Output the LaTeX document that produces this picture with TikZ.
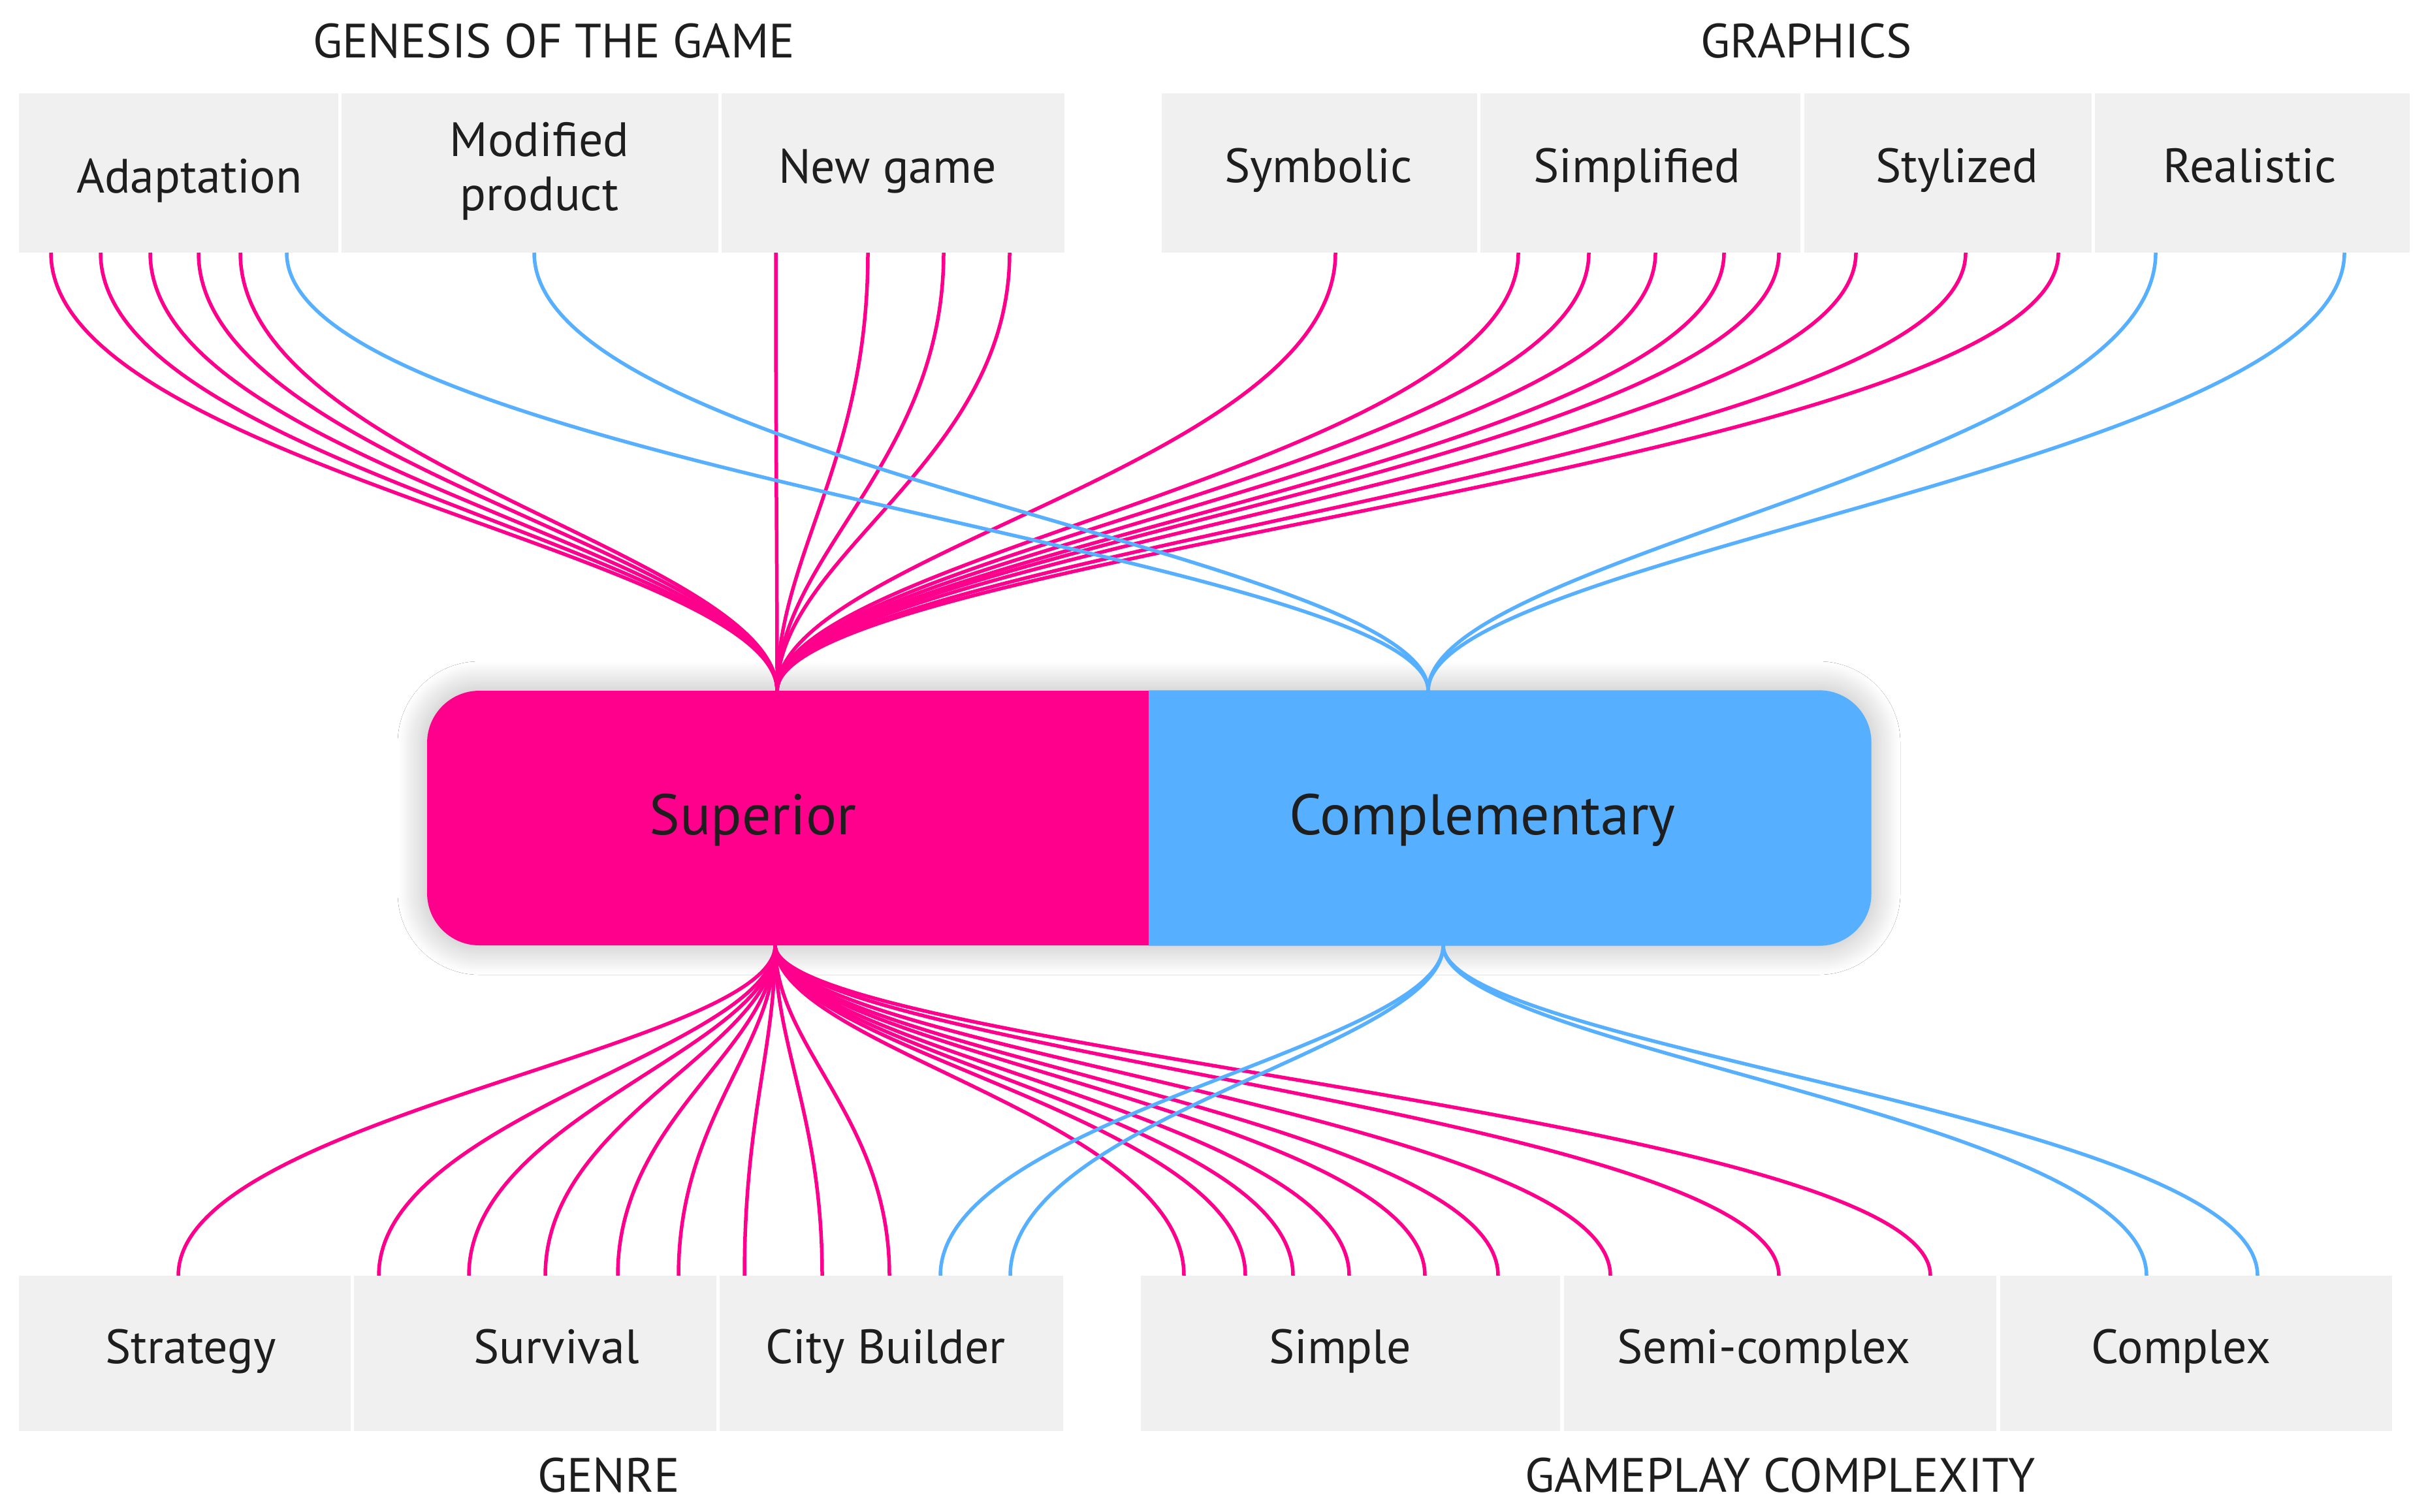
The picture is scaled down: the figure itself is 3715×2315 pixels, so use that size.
\documentclass[tikz,border=0pt]{standalone}
\usepackage{fontspec}
\setmainfont{PT Sans}
\usetikzlibrary{shadows.blur}
\definecolor{pk}{HTML}{FF008C}
\definecolor{bl}{HTML}{56B0FF}
\definecolor{gr}{HTML}{F0F0F0}
\definecolor{tx}{HTML}{1E1E1E}
\newcommand\cbox[5]{\node[catbox, minimum width={(#3-#2)*0.1mm}, minimum height={(#5-#4)*0.1mm}] (#1) at ({(#2+#3)/2},{(#4+#5)/2}) {};}
\begin{document}
\begin{tikzpicture}[x=0.1mm,y=-0.1mm,
  catbox/.style={fill=gr, draw=none, inner sep=0pt, outer sep=0pt},
  lbl/.style={anchor=base, inner sep=0pt, text=tx, font=\fontsize{21}{24}\selectfont},
  big/.style={anchor=base, inner sep=0pt, text=tx, font=\fontsize{25}{30}\selectfont},
  pl/.style={draw=pk, line width=0.55mm},
  bll/.style={draw=bl, line width=0.55mm}]
\useasboundingbox[fill=white] (0,0) rectangle (3715,2315);

% headers
\node[lbl] (hgen) at (848,88) {GENESIS OF THE GAME};
\node[lbl] (hgra) at (2766,88) {GRAPHICS};
\node[lbl] (hgenre) at (932,2285) {GENRE};
\node[lbl] (hgame) at (2726,2285) {GAMEPLAY COMPLEXITY};

% top boxes
\cbox{adapt}{29}{518}{143}{387}
\cbox{modif}{523}{1100}{143}{387}
\cbox{newg}{1105}{1630}{143}{387}
\cbox{symb}{1779}{2262}{143}{387}
\cbox{simpl}{2267}{2757}{143}{387}
\cbox{styl}{2763}{3203}{143}{387}
\cbox{real}{3208}{3690}{143}{387}
% bottom boxes
\cbox{strat}{29}{537}{1954}{2192}
\cbox{surv}{542}{1097}{1954}{2192}
\cbox{city}{1102}{1628}{1954}{2192}
\cbox{simple}{1747}{2389}{1954}{2192}
\cbox{semi}{2395}{3057}{1954}{2192}
\cbox{compl}{3063}{3663}{1954}{2192}

% labels
\node[lbl] (tadapt) at (290,295) {Adaptation};
\node[lbl, align=center] (tmodif) at (826,322) {Modified\\[-0.2mm]product};
\node[lbl] (tnewg) at (1359,280) {New game};
\node[lbl] (tsymb) at (2019,279) {Symbolic};
\node[lbl] (tsimpl) at (2507,279) {Simplified};
\node[lbl] (tstyl) at (2997,279) {Stylized};
\node[lbl] (treal) at (3445,279) {Realistic};
\node[lbl] (tstrat) at (292,2088) {Strategy};
\node[lbl] (tsurv) at (852,2088) {Survival};
\node[lbl] (tcity) at (1356,2088) {City Builder};
\node[lbl] (tsimple) at (2052,2088) {Simple};
\node[lbl] (tsemi) at (2701,2088) {Semi-complex};
\node[lbl] (tcompl) at (3340,2088) {Complex};

% central bar
\node[fill=pk, draw=none, rounded corners=8mm, minimum width=221.1mm, minimum height=39mm, inner sep=0pt,
  blur shadow={shadow xshift=0pt, shadow yshift=0pt, shadow blur radius=4.5mm, shadow blur steps=40, shadow opacity=30}] (core) at (1759.5,1253) {};
\begin{scope}
  \clip (1759,1000) rectangle (2950,1500);
  \fill[bl, rounded corners=8mm] (core.north west) rectangle (core.south east);
\end{scope}
\node[big] (sup) at (1153,1278) {Superior};
\node[big] (comp) at (2270,1278) {Complementary};

\coordinate (st) at (1190,1058);
\coordinate (sb) at (1187,1448);
\coordinate (ct) at (2187,1058);
\coordinate (cb) at (2210,1448);

% top pink
\foreach \b/\xs in {adapt/{78,154,230,304,368}, newg/{1188,1329,1445,1546}, symb/{2045}, simpl/{2325,2433,2535,2640,2724}, styl/{2842,3010,3152}}{
  \foreach \x in \xs {
    \draw[pl] (\b.south -| \x,0) .. controls +(0,322) and +(0,-208) .. (st);
  }
}
% bottom pink
\foreach \b/\xs in {strat/{273}, surv/{580,718,835,946,1039}, city/{1140,1259,1362}, simple/{1813,1907,1980,2066,2182,2294}, semi/{2466,2724,2956}}{
  \foreach \x in \xs {
    \draw[pl] (\b.north -| \x,0) .. controls +(0,-243) and +(0,157) .. (sb);
  }
}
% top blue
\foreach \b/\xs in {adapt/{439}, modif/{818}, real/{3301,3590}}{
  \foreach \x in \xs {
    \draw[bll] (\b.south -| \x,0) .. controls +(0,322) and +(0,-208) .. (ct);
  }
}
% bottom blue
\foreach \b/\xs in {city/{1440,1547}, compl/{3287,3457}}{
  \foreach \x in \xs {
    \draw[bll] (\b.north -| \x,0) .. controls +(0,-243) and +(0,157) .. (cb);
  }
}
\end{tikzpicture}
\end{document}
